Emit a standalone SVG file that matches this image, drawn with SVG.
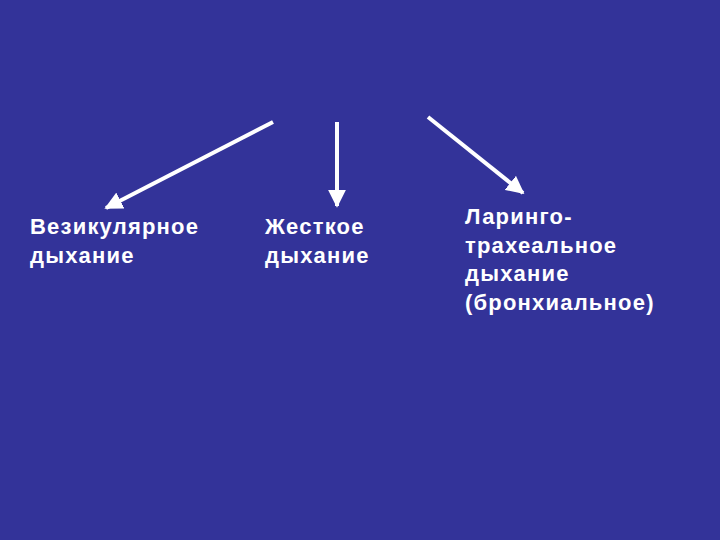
<svg xmlns="http://www.w3.org/2000/svg" width="720" height="540" viewBox="0 0 720 540">
<style>
.t{font-family:"Liberation Sans",Arial,sans-serif;font-size:22px;font-weight:bold;fill:#ffffff;letter-spacing:1.2px}
.c{stroke:#ffffff;stroke-width:4;fill:none}
</style>
<defs>
<marker id="ah" viewBox="0 0 10 10" refX="9" refY="5" markerWidth="4.5" markerHeight="4.5" markerUnits="strokeWidth" orient="auto">
<path d="M0,0 L10,5 L0,10 z" fill="#ffffff"/>
</marker>
</defs>
<rect width="720" height="540" fill="#333399"/>
<g id="connectors">
<line class="c" x1="273" y1="122" x2="106" y2="208" marker-end="url(#ah)"/>
<line class="c" x1="337" y1="122" x2="337" y2="206" marker-end="url(#ah)"/>
<line class="c" x1="428" y1="117" x2="523" y2="193" marker-end="url(#ah)"/>
</g>
<g id="n1"><text class="t" x="30" y="234">Везикулярное</text><text class="t" x="30" y="263">дыхание</text></g>
<g id="n2"><text class="t" x="265" y="234">Жесткое</text><text class="t" x="265" y="263">дыхание</text></g>
<g id="n3"><text class="t" x="465" y="224">Ларинго-</text><text class="t" x="465" y="253">трахеальное</text><text class="t" x="465" y="281">дыхание</text><text class="t" x="465" y="310">(бронхиальное)</text></g>
</svg>
